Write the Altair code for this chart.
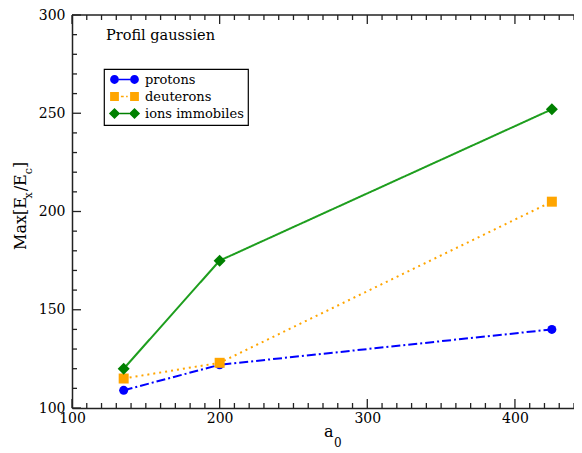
import altair as alt
import pandas as pd

# ---- data ----
series = ["protons", "deuterons", "ions immobiles"]
a0_values = [135, 200, 425]
protons = [109, 122, 140]
deuterons = [115, 123, 205]
ions = [120, 175, 252]

x_major = [100, 200, 300, 400]
x_minor = [v for v in range(110, 441, 10) if v % 100]
y_major = [100, 150, 200, 250, 300]
y_minor = [v for v in range(110, 300, 10) if v % 50]

colors_marker = ["#0000ff", "#ffa500", "#008000"]
colors_line = ["#0000ff", "#ffa500", "#1e9e1e"]

rows = []
for name, vals in zip(series, [protons, deuterons, ions]):
    for a, v in zip(a0_values, vals):
        rows.append({"serie": name, "a0": a, "val": v})
df = pd.DataFrame(rows)

TOP = 7
W, H = 502, 400 - TOP
FONT = "DejaVu Serif"
xs = alt.Scale(domain=[100, 440], nice=False, zero=False)
ys = alt.Scale(domain=[100, 300], nice=False, zero=False)

x_axis = alt.Axis(values=x_major, format="d", title=None, grid=False, ticks=False, tickSize=0,
                  labelFont=FONT, labelFontSize=14, labelColor="black", labelPadding=3,
                  labelFlush=False, labelOverlap=False, labelBound=False,
                  domainColor="#222", domainWidth=1.5)
y_axis = alt.Axis(values=y_major, format="d", title=None, grid=False, ticks=False, tickSize=0,
                  labelFont=FONT, labelFontSize=14, labelColor="black", labelPadding=7,
                  labelFlush=False, labelOverlap=False, labelBound=False,
                  domainColor="#222", domainWidth=1.5)


def X(field):
    return alt.X(field, scale=xs, axis=x_axis)


def Y(field):
    return alt.Y(field, scale=ys, axis=y_axis)


layers = []
dashes = [[9, 3, 2, 3], [2, 4], [1, 0]]
for i, name in enumerate(series):
    layers.append(
        alt.Chart(df).transform_filter(alt.datum.serie == name)
        .mark_line(color=colors_line[i], strokeDash=dashes[i], strokeWidth=2)
        .encode(x=X("a0:Q"), y=Y("val:Q"))
    )

shapes = ["circle", "square", "diamond"]
sizes = [81, 100, 144]
for i, name in enumerate(series):
    layers.append(
        alt.Chart(df).transform_filter(alt.datum.serie == name)
        .mark_point(shape=shapes[i], filled=True, size=sizes[i], color=colors_marker[i], opacity=1)
        .encode(x=X("a0:Q"), y=Y("val:Q"))
    )


# tick marks (inward, major + minor)
def xticks(vals, length):
    d = pd.DataFrame({"t": vals})
    bot = alt.Chart(d).mark_rule(color="#222", strokeWidth=1.3).encode(
        x=X("t:Q"), y=alt.value(H), y2=alt.value(H - length))
    top = alt.Chart(d).mark_rule(color="#222", strokeWidth=1.3).encode(
        x=X("t:Q"), y=alt.value(0), y2=alt.value(length))
    return [bot, top]


def yticks(vals, length):
    d = pd.DataFrame({"t": vals})
    return [alt.Chart(d).mark_rule(color="#222", strokeWidth=1.3).encode(
        y=Y("t:Q"), x=alt.value(0), x2=alt.value(length))]


layers += xticks(x_major, 9) + xticks(x_minor, 5) + yticks(y_major, 9) + yticks(y_minor, 5)

one = pd.DataFrame({"k": [0]})
layers.append(alt.Chart(one).mark_rule(color="#222", strokeWidth=1.5).encode(
    x=alt.value(0), x2=alt.value(W), y=alt.value(0)))

# legend (custom symbols: marker-line-marker)
p_circ = ("M-3.6,0A1.1,1.1,0,1,1,-1.4,0A1.1,1.1,0,1,1,-3.6,0Z"
          "M1.4,0A1.1,1.1,0,1,1,3.6,0A1.1,1.1,0,1,1,1.4,0Z"
          "M-1.4,-0.18L1.4,-0.18L1.4,0.18L-1.4,0.18Z")
p_sq = ("M-3.6,-1.1L-1.4,-1.1L-1.4,1.1L-3.6,1.1Z"
        "M1.4,-1.1L3.6,-1.1L3.6,1.1L1.4,1.1Z"
        "M-0.9,-0.18L-0.2,-0.18L-0.2,0.18L-0.9,0.18Z"
        "M0.4,-0.18L0.8,-0.18L0.8,0.18L0.4,0.18Z")
p_dia = ("M-3.9,0L-2.5,-1.4L-1.1,0L-2.5,1.4Z"
         "M1.1,0L2.5,-1.4L3.9,0L2.5,1.4Z"
         "M-1.2,-0.18L1.2,-0.18L1.2,0.18L-1.2,0.18Z")

leg = alt.Legend(title=None, orient="none", legendX=32, legendY=59 - TOP + 2, strokeColor="black",
                 padding=4, labelFont=FONT, labelFontSize=13, labelColor="black",
                 symbolSize=64, symbolOffset=10, labelOffset=14, rowPadding=3,
                 symbolStrokeWidth=0, symbolOpacity=1)
layers.append(
    alt.Chart(df).transform_filter("false").mark_point(filled=True)
    .encode(x=X("a0:Q"), y=Y("val:Q"),
            color=alt.Color("serie:N", scale=alt.Scale(domain=series, range=colors_marker), legend=leg),
            shape=alt.Shape("serie:N", scale=alt.Scale(domain=series, range=[p_circ, p_sq, p_dia]), legend=leg))
)


# texts
def txt(t, x, y, size, **kw):
    return alt.Chart(one).mark_text(text=t, font=FONT, fontSize=size, color="black", **kw).encode(
        x=alt.value(x), y=alt.value(y))


# positions below are in page pixels minus the plot origin (72, 8 + TOP)
oy = 8 + TOP
layers.append(txt("Profil gaussien", 34, 40 - oy, 14.5, align="left", baseline="alphabetic"))
# x title a_0
layers.append(txt("a", 252, 437 - oy, 16, align="left", baseline="alphabetic"))
layers.append(txt("0", 262, 447 - oy, 12, align="left", baseline="alphabetic"))
# y title Max[E_x/E_c]
yb, ys_ = -46, -40
y0 = 250 - oy
layers.append(txt("Max[E", yb, y0, 16, align="left", baseline="alphabetic", angle=270))
layers.append(txt("x", ys_, y0 - 51.6, 11, align="left", baseline="alphabetic", angle=270))
layers.append(txt("/E", yb, y0 - 58.7, 16, align="left", baseline="alphabetic", angle=270))
layers.append(txt("c", ys_, y0 - 75.8, 11, align="left", baseline="alphabetic", angle=270))
layers.append(txt("]", yb, y0 - 82.0, 16, align="left", baseline="alphabetic", angle=270))

chart = alt.layer(*layers).properties(
    width=W, height=H,
    autosize=alt.AutoSizeParams(type="none"),
    padding={"left": 64, "top": TOP, "right": 0, "bottom": 43},
).configure_view(stroke=None).configure_legend(strokeWidth=1.2)

chart.save("out.html", embed_options={"renderer": "svg", "actions": False})
